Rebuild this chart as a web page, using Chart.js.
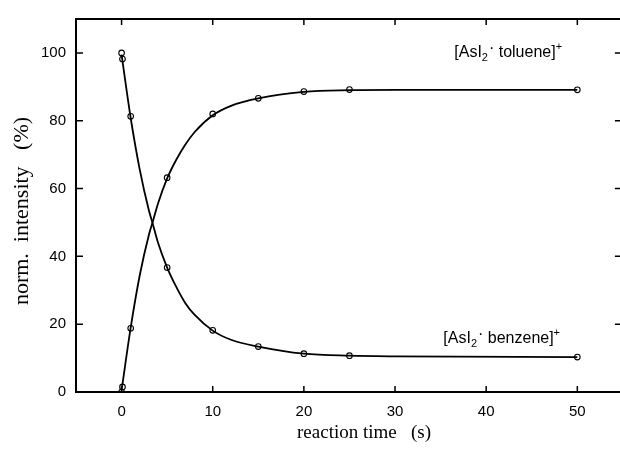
<!DOCTYPE html>
<html>
<head>
<meta charset="utf-8">
<script src="https://cdn.jsdelivr.net/npm/chart.js@4"></script>
<style>
  html, body { margin: 0; padding: 0; background: #fff; overflow: hidden; }
  #chart { display: block; }
</style>
</head>
<body>
<canvas id="chart" width="628" height="450"></canvas>
<script>
const reactionTime = [0, 0.1, 1, 5, 10, 15, 20, 25, 50];
const benzene = [100, 98.2, 81.3, 36.7, 18.2, 13.4, 11.3, 10.7, 10.3];
const toluene = [0, 1.5, 18.8, 63.2, 82.0, 86.6, 88.6, 89.2, 89.1];

// fitted curves
const fitTime = [0, 1, 2, 3, 3.4, 4, 5, 6, 7, 8, 10, 12, 15, 20, 25, 30, 50];
const benzeneFit = [99.5, 80.8, 65.5, 53.5, 49.8, 44, 36.7, 31, 26.2, 22.8, 18.1, 15.4, 13.4, 11.3, 10.7, 10.5, 10.3];
const tolueneFit = [0.5, 19, 34.5, 46.4, 50, 55.6, 63, 68.5, 73, 76.6, 81.6, 84.4, 86.6, 88.5, 89, 89.1, 89.1];

const xTicks = [0, 10, 20, 30, 40, 50];
const yTicks = [0, 20, 40, 60, 80, 100];

const toPoints = (xs, ys) => xs.map((t, i) => ({ x: t, y: ys[i] }));

// frame, inward ticks, axis titles and the two species labels
const decorations = {
    id: 'decorations',
    afterDraw(chart) {
        const ctx = chart.ctx;
        const a = chart.chartArea;
        const xs = chart.scales.x, ys = chart.scales.y;
        ctx.save();
        ctx.strokeStyle = '#000';
        ctx.lineWidth = 2;
        ctx.strokeRect(a.left, a.top, a.right - a.left, a.bottom - a.top);

        ctx.lineWidth = 1.5;
        ctx.beginPath();
        xTicks.forEach(v => {
            const px = xs.getPixelForValue(v);
            ctx.moveTo(px, a.bottom); ctx.lineTo(px, a.bottom - 6);
            ctx.moveTo(px, a.top); ctx.lineTo(px, a.top + 6);
        });
        yTicks.forEach(v => {
            const py = ys.getPixelForValue(v);
            ctx.moveTo(a.left, py); ctx.lineTo(a.left + 7, py);
            ctx.moveTo(a.right, py); ctx.lineTo(a.right - 8, py);
        });
        ctx.stroke();

        // axis titles
        ctx.fillStyle = '#000';
        ctx.textAlign = 'center';
        ctx.textBaseline = 'alphabetic';
        ctx.font = '19px "Liberation Serif", "Times New Roman", serif';
        ctx.fillText('reaction time   (s)', 364, 438);
        ctx.save();
        ctx.font = '22px "Liberation Serif", "Times New Roman", serif';
        ctx.translate(28, 211);
        ctx.rotate(-Math.PI / 2);
        ctx.fillText('norm.  intensity   (%)', 0, 0);
        ctx.restore();

        // species labels: [AsI2· X]+
        const label = (name, t, val) => {
            let x = xs.getPixelForValue(t);
            const y = ys.getPixelForValue(val);
            ctx.textAlign = 'left';
            const big = '16px "Liberation Sans", Arial, sans-serif';
            const small = '11px "Liberation Sans", Arial, sans-serif';
            ctx.font = big;
            ctx.fillText('[AsI', x, y); x += ctx.measureText('[AsI').width;
            ctx.font = small;
            ctx.fillText('2', x, y + 4); x += ctx.measureText('2').width + 1;
            ctx.font = big;
            ctx.fillText('\u00B7', x, y - 4); x += ctx.measureText('\u00B7').width;
            const rest = ' ' + name + ']';
            ctx.fillText(rest, x, y); x += ctx.measureText(rest).width;
            ctx.font = small;
            ctx.fillText('+', x, y - 7);
        };
        label('toluene', 36.5, 98.7);
        label('benzene', 35.3, 14.5);
        ctx.restore();
    }
};

const fitStyle = {
    type: 'line',
    borderColor: '#000',
    borderWidth: 1.8,
    pointRadius: 0,
    cubicInterpolationMode: 'monotone',
    fill: false
};

const markStyle = {
    type: 'scatter',
    showLine: false,
    pointRadius: 2.8,
    pointBorderWidth: 1.1,
    pointBackgroundColor: '#fff',
    pointBorderColor: '#000'
};

new Chart(document.getElementById('chart'), {
    type: 'line',
    data: {
        datasets: [
            Object.assign({ label: 'benzene fit', data: toPoints(fitTime, benzeneFit) }, fitStyle),
            Object.assign({ label: 'toluene fit', data: toPoints(fitTime, tolueneFit) }, fitStyle),
            Object.assign({ label: 'benzene', data: toPoints(reactionTime, benzene) }, markStyle),
            Object.assign({ label: 'toluene', data: toPoints(reactionTime, toluene) }, markStyle)
        ]
    },
    options: {
        responsive: false,
        animation: false,
        layout: { padding: { top: 13, right: 0, left: 0, bottom: 0 } },
        plugins: { legend: { display: false }, tooltip: { enabled: false } },
        scales: {
            x: {
                type: 'linear',
                min: -5,
                max: 55,
                afterFit: s => { s.height = 58; },
                afterBuildTicks: s => { s.ticks = xTicks.map(v => ({ value: v })); },
                grid: { display: false, drawTicks: false },
                border: { display: false },
                ticks: {
                    padding: 11,
                    color: '#000',
                    font: { family: '"Liberation Sans", Arial, sans-serif', size: 15 }
                }
            },
            y: {
                type: 'linear',
                min: 0,
                max: 110,
                afterFit: s => { s.width = 76; },
                afterBuildTicks: s => { s.ticks = yTicks.map(v => ({ value: v })); },
                grid: { display: false, drawTicks: false },
                border: { display: false },
                ticks: {
                    padding: 10,
                    color: '#000',
                    font: { family: '"Liberation Sans", Arial, sans-serif', size: 15 }
                }
            }
        }
    },
    plugins: [decorations]
});
</script>
</body>
</html>
